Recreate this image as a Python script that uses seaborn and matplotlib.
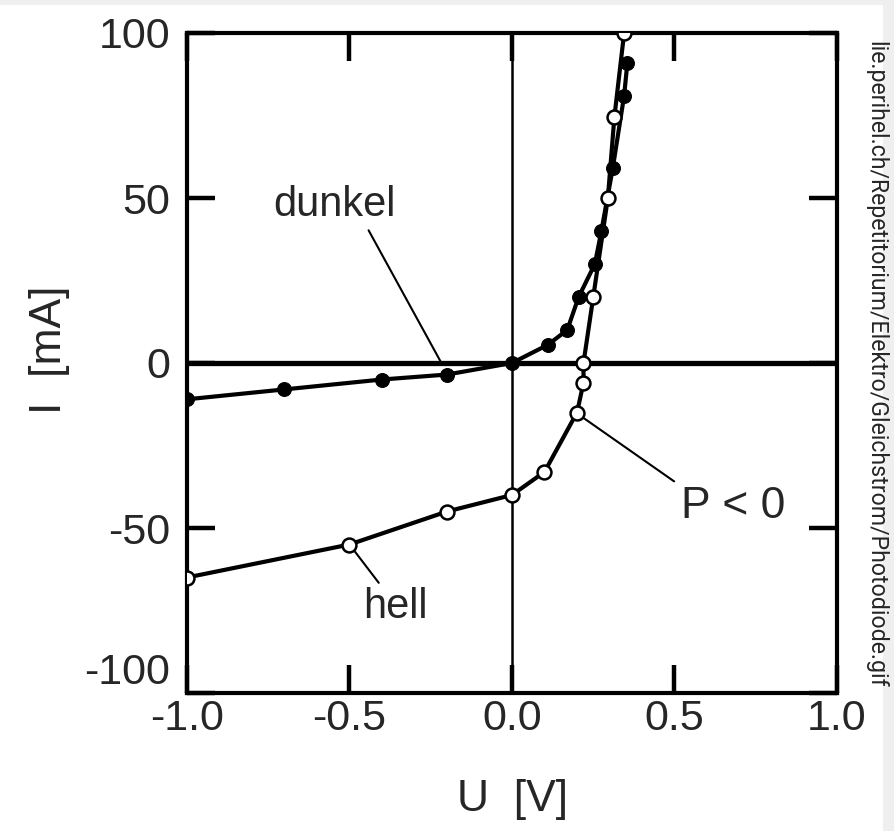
import matplotlib
matplotlib.use("Agg")
import matplotlib.pyplot as plt
import matplotlib.patches as patches
import seaborn as sns
import pandas as pd

# dark curve (filled markers)
u_dunkel = [-1.0, -0.7, -0.4, -0.2, 0.0, 0.11, 0.17, 0.205, 0.255, 0.275, 0.31, 0.345, 0.355]
i_dunkel = [-11, -8, -5, -3.5, 0, 5.5, 10, 20, 30, 40, 59, 81, 91]

# illuminated curve (open markers)
u_hell = [-1.0, -0.5, -0.2, 0.0, 0.1, 0.2, 0.22, 0.22, 0.25, 0.295, 0.315, 0.345]
i_hell = [-65, -55, -45, -40, -33, -15, -6, 0, 20, 50, 74.5, 100]

x_ticks = [-1.0, -0.5, 0.0, 0.5, 1.0]
x_ticklabels = ["-1.0", "-0.5", "0.0", "0.5", "1.0"]
y_ticks = [-100, -50, 0, 50, 100]
y_ticklabels = ["-100", "-50", "0", "50", "100"]

sns.set_style("white")
plt.rcParams["font.family"] = ["Liberation Sans", "DejaVu Sans"]

fig = plt.figure(figsize=(8.95, 8.31), dpi=100, facecolor="#efefef")
fig.patches.append(patches.Rectangle((0, 0), 883 / 895, 826 / 831, transform=fig.transFigure,
                                     facecolor="white", edgecolor="none", zorder=-10))
ax = fig.add_axes([187 / 895, 138 / 831, 650 / 895, 660 / 831])
ax.set_facecolor("white")

ax.axhline(0, color="black", lw=3.8, zorder=1)
ax.axvline(0, color="black", lw=1.8, zorder=1)

df_d = pd.DataFrame({"U": u_dunkel, "I": i_dunkel})
df_h = pd.DataFrame({"U": u_hell, "I": i_hell})

sns.lineplot(data=df_d, x="U", y="I", ax=ax, sort=False, estimator=None, color="black",
             lw=3, marker="o", markersize=10, markerfacecolor="black",
             markeredgecolor="black", zorder=3)
sns.lineplot(data=df_h, x="U", y="I", ax=ax, sort=False, estimator=None, color="black",
             lw=3, marker="o", markersize=10, markerfacecolor="white",
             markeredgecolor="black", markeredgewidth=1.8, zorder=4)

ax.set_xlim(-1.0, 1.0)
ax.set_ylim(-100, 100)
ax.set_xticks(x_ticks)
ax.set_xticklabels(x_ticklabels)
ax.set_yticks(y_ticks)
ax.set_yticklabels(y_ticklabels)
ax.tick_params(direction="in", length=20, width=3.2, top=True, right=True,
               bottom=True, left=True, labelsize=31, color="black")
ax.tick_params(axis="x", pad=4)
ax.tick_params(axis="y", pad=12)
ax.get_yticklabels()[0].set_va("bottom")
for s in ax.spines.values():
    s.set_linewidth(3)
    s.set_color("black")
    s.set_visible(True)

ax.set_xlabel("U  [V]", fontsize=32)
ax.set_ylabel("I  [mA]", fontsize=32)
ax.xaxis.set_label_coords(0.5015, -0.13)
ax.yaxis.set_label_coords(-0.18, 0.52)

# annotations with leader lines
ax.annotate("dunkel", xy=(-0.22, 0.5), xytext=(-0.545, 48), fontsize=30,
            ha="center", va="center",
            arrowprops=dict(arrowstyle="-", color="black", lw=1.5, relpos=(0.75, 0.0),
                            shrinkA=2, shrinkB=0))
ax.annotate("hell", xy=(-0.5, -55), xytext=(-0.36, -74), fontsize=30,
            ha="center", va="center",
            arrowprops=dict(arrowstyle="-", color="black", lw=1.5, relpos=(0.3, 1.0),
                            shrinkA=1, shrinkB=0))
ax.annotate("P < 0", xy=(0.196, -15), xytext=(0.68, -43.5), fontsize=32,
            ha="center", va="center",
            arrowprops=dict(arrowstyle="-", color="black", lw=1.5, relpos=(0.0, 1.0),
                            shrinkA=3, shrinkB=0))

fig.text(0.978, 0.561, "lie.perihel.ch/Repetitorium/Elektro/Gleichstrom/Photodiode.gif",
         rotation=-90, ha="center", va="center", fontsize=16.7, family="Roboto")

fig.savefig("out.png", dpi=100, facecolor=fig.get_facecolor())
